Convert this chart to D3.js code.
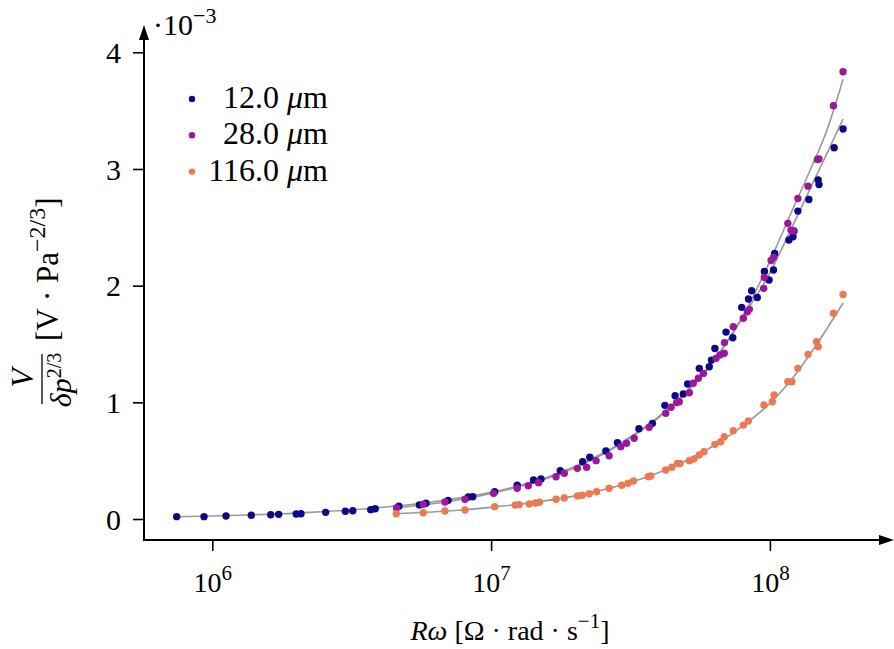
<!DOCTYPE html>
<html><head><meta charset="utf-8">
<script src="https://cdn.jsdelivr.net/npm/d3@7/dist/d3.min.js"></script>
<style>
body{margin:0;background:#fff;}
svg text{font-family:"Liberation Serif","Times New Roman",serif;fill:#000;}
</style></head><body>
<svg id="chart" width="894" height="649"></svg>
<script>
// ---------------- data (V in units of 1e-3) ----------------
const seriesLabels = ["12.0", "28.0", "116.0"];
const seriesColors = ["#0d0887", "#9c179e", "#ed7953"];
const xTickValues = [1e6, 1e7, 1e8];
const xTickExponents = ["6", "7", "8"];
const yTickValues = [0, 1, 2, 3, 4];
const yExponent = "−3";

const rw12 = [7.45e5,9.34e5,1.12e6,1.38e6,1.62e6,1.73e6,2.00e6,2.08e6,2.55e6,3.00e6,3.19e6,3.70e6,3.84e6,4.67e6,5.53e6,5.84e6,7.01e6,8.28e6,8.59e6,1.03e7,1.24e7,1.42e7,1.51e7,1.77e7,2.13e7,2.26e7,2.58e7,2.84e7,3.39e7,3.79e7,4.20e7,4.57e7,4.89e7,5.07e7,5.58e7,6.06e7,6.17e7,6.35e7,6.96e7,7.36e7,7.92e7,8.38e7,8.60e7,9.01e7,9.56e7,9.93e7,1.03e8,1.04e8,1.17e8,1.21e8,1.22e8,1.26e8,1.38e8,1.49e8,1.50e8,1.70e8,1.83e8];
const v12 = [0.020,0.020,0.026,0.032,0.037,0.040,0.043,0.045,0.057,0.066,0.071,0.080,0.088,0.109,0.120,0.135,0.160,0.189,0.191,0.234,0.289,0.334,0.343,0.414,0.491,0.529,0.583,0.654,0.774,0.820,0.974,1.057,1.071,1.157,1.291,1.305,1.362,1.461,1.602,1.554,1.814,1.885,1.956,1.898,2.122,2.048,2.134,2.275,2.391,2.419,2.468,2.639,2.739,2.905,2.866,3.182,3.342];

const rw28 = [4.58e6,5.71e6,6.83e6,8.06e6,1.02e7,1.24e7,1.36e7,1.48e7,1.71e7,1.83e7,2.04e7,2.20e7,2.38e7,2.65e7,2.92e7,3.06e7,3.26e7,3.69e7,4.23e7,4.42e7,4.63e7,4.73e7,5.14e7,5.31e7,5.54e7,5.77e7,6.41e7,6.62e7,6.86e7,6.87e7,7.39e7,8.03e7,8.30e7,8.44e7,9.50e7,9.55e7,1.01e8,1.03e8,1.16e8,1.19e8,1.21e8,1.26e8,1.37e8,1.48e8,1.50e8,1.69e8,1.83e8];
const v28 = [0.094,0.126,0.146,0.169,0.220,0.263,0.285,0.311,0.362,0.392,0.434,0.443,0.500,0.542,0.620,0.649,0.692,0.786,0.906,0.958,0.998,1.005,1.082,1.163,1.206,1.248,1.377,1.405,1.420,1.512,1.648,1.720,1.776,1.797,1.977,2.071,2.215,2.242,2.534,2.476,2.468,2.748,2.853,3.082,3.085,3.542,3.833];

const rw116 = [4.57e6,5.71e6,6.83e6,8.06e6,1.03e7,1.22e7,1.26e7,1.37e7,1.44e7,1.49e7,1.71e7,1.83e7,2.04e7,2.12e7,2.25e7,2.39e7,2.65e7,2.94e7,3.10e7,3.24e7,3.66e7,3.74e7,4.23e7,4.45e7,4.66e7,4.76e7,5.14e7,5.34e7,5.58e7,5.80e7,6.35e7,6.66e7,6.86e7,7.39e7,8.03e7,8.37e7,9.52e7,1.02e8,1.035e8,1.16e8,1.20e8,1.26e8,1.37e8,1.47e8,1.49e8,1.69e8,1.83e8];
const v116 = [0.045,0.054,0.069,0.077,0.105,0.120,0.123,0.129,0.137,0.143,0.169,0.180,0.197,0.203,0.217,0.234,0.263,0.289,0.306,0.326,0.362,0.368,0.420,0.443,0.477,0.476,0.500,0.514,0.548,0.577,0.640,0.662,0.705,0.757,0.805,0.840,0.977,1.005,1.063,1.177,1.177,1.291,1.411,1.519,1.476,1.763,1.925];

// fitted curves
const fitRw12 = [7.45e5,1e6,2e6,4e6,7e6,1e7,2e7,3e7,4e7,5e7,6e7,7e7,8e7,1e8,1.2e8,1.4e8,1.6e8,1.83e8];
const fitV12  = [0.019,0.026,0.050,0.098,0.165,0.228,0.45,0.67,0.88,1.09,1.30,1.51,1.73,2.11,2.50,2.84,3.13,3.43];
const fitRw28 = [4.58e6,7e6,1e7,2e7,3e7,4e7,5e7,6e7,7e7,8e7,1e8,1.2e8,1.4e8,1.6e8,1.83e8];
const fitV28  = [0.096,0.150,0.218,0.44,0.66,0.87,1.08,1.29,1.52,1.74,2.21,2.64,3.00,3.33,3.77];
const fitRw116 = [4.57e6,7e6,1e7,2e7,3e7,4e7,5e7,6e7,7e7,8e7,1e8,1.2e8,1.4e8,1.6e8,1.83e8];
const fitV116  = [0.045,0.068,0.100,0.198,0.297,0.398,0.50,0.60,0.70,0.80,0.99,1.20,1.42,1.63,1.85];

// ---------------- drawing ----------------
const svg = d3.select("#chart");
const FS = 28, SUP = 21;

const x = d3.scaleLog().domain([1e6, 1e8]).range([212.3, 769.9]);
const y = d3.scaleLinear().domain([0, 4]).range([519, 52.3]);
const axisX0 = 144, axisY0 = 540;

const zip = (a, b) => a.map((d, i) => [d, b[i]]);
const pts = [zip(rw12, v12), zip(rw28, v28), zip(rw116, v116)];
const fits = [zip(fitRw12, fitV12), zip(fitRw28, fitV28), zip(fitRw116, fitV116)];

// fits
const line = d3.line().x(d => x(d[0])).y(d => y(d[1])).curve(d3.curveMonotoneX);
svg.append("g").selectAll("path").data(fits).join("path")
  .attr("d", line).attr("fill", "none").attr("stroke", "#999").attr("stroke-width", 1.6);

// points
pts.forEach((p, i) => {
  svg.append("g").selectAll("circle").data(p).join("circle")
    .attr("cx", d => x(d[0])).attr("cy", d => y(d[1])).attr("r", 3.7)
    .attr("fill", seriesColors[i]);
});

// y axis
const gy = svg.append("g").attr("transform", `translate(${axisX0},0)`)
  .call(d3.axisLeft(y).tickValues(yTickValues).tickSize(11).tickPadding(12).tickFormat(d3.format("d")));
gy.select(".domain").remove();
gy.selectAll(".tick line").attr("stroke", "#000").attr("stroke-width", 1.6);
gy.selectAll(".tick text").attr("font-size", 30).attr("font-family", null).attr("dy", "0.34em");

// x axis
const gx = svg.append("g").attr("transform", `translate(0,${axisY0})`)
  .call(d3.axisBottom(x).tickValues(xTickValues).tickSize(11).tickPadding(6).tickFormat(() => ""));
gx.select(".domain").remove();
gx.selectAll(".tick line").attr("stroke", "#000").attr("stroke-width", 1.6);
gx.selectAll(".tick text").each(function(d, i) {
  const t = d3.select(this).attr("font-size", FS).attr("font-family", null).attr("dy", null).attr("y", 52).text(null);
  t.append("tspan").text("10");
  t.append("tspan").attr("font-size", SUP).attr("dy", -12).text(xTickExponents[i]);
});

// axis lines with arrows
svg.append("line").attr("x1", axisX0).attr("y1", axisY0).attr("x2", axisX0).attr("y2", 36)
  .attr("stroke", "#000").attr("stroke-width", 2);
svg.append("path").attr("d", `M${axisX0},25 L${axisX0-5},40 L${axisX0+5},40 Z`).attr("fill", "#000");
svg.append("line").attr("x1", axisX0 - 1).attr("y1", axisY0).attr("x2", 884).attr("y2", axisY0)
  .attr("stroke", "#000").attr("stroke-width", 2);
svg.append("path").attr("d", `M894,${axisY0} L879,${axisY0-5} L879,${axisY0+5} Z`).attr("fill", "#000");

// multiplier
const mult = svg.append("text").attr("x", 153).attr("y", 35).attr("font-size", 30);
mult.append("tspan").text("·10");
mult.append("tspan").attr("font-size", 22).attr("dy", -12).text(yExponent);

// x label
const xl = svg.append("text").attr("x", 510).attr("y", 640).attr("text-anchor", "middle").attr("font-size", FS);
xl.append("tspan").attr("font-style", "italic").text("Rω");
xl.append("tspan").text(" [Ω · rad · s");
xl.append("tspan").attr("font-size", SUP).attr("dy", -12).text("−1");
xl.append("tspan").attr("dy", 12).text("]");

// y label (rotated)
const yl = svg.append("g").attr("transform", "rotate(-90)");
yl.append("text").attr("x", -378).attr("y", 33).attr("text-anchor", "middle")
  .attr("font-size", 31).attr("font-style", "italic").text("V");
yl.append("line").attr("x1", -404).attr("x2", -354).attr("y1", 42).attr("y2", 42)
  .attr("stroke", "#000").attr("stroke-width", 1.3);
const den = yl.append("text").attr("x", -380).attr("y", 71).attr("text-anchor", "middle").attr("font-size", 30);
den.append("tspan").attr("font-style", "italic").text("δp");
den.append("tspan").attr("font-size", 20).attr("dy", -10).text("2/3");
const br = yl.append("text").attr("x", -341).attr("y", 58).attr("font-size", 31);
br.append("tspan").text("[V · Pa");
br.append("tspan").attr("font-size", 24).attr("dy", -13).text("−2/3");
br.append("tspan").attr("dy", 13).text("]");

// legend
const legend = svg.append("g");
seriesLabels.forEach((lab, i) => {
  const cy = 99 + i * 36.3;
  legend.append("circle").attr("cx", 192).attr("cy", cy).attr("r", 3.2).attr("fill", seriesColors[i]);
  const t = legend.append("text").attr("x", 328).attr("y", cy + 9).attr("text-anchor", "end").attr("font-size", 32);
  t.append("tspan").text(lab + " ");
  t.append("tspan").attr("font-style", "italic").text("μ");
  t.append("tspan").text("m");
});
</script>
</body></html>
